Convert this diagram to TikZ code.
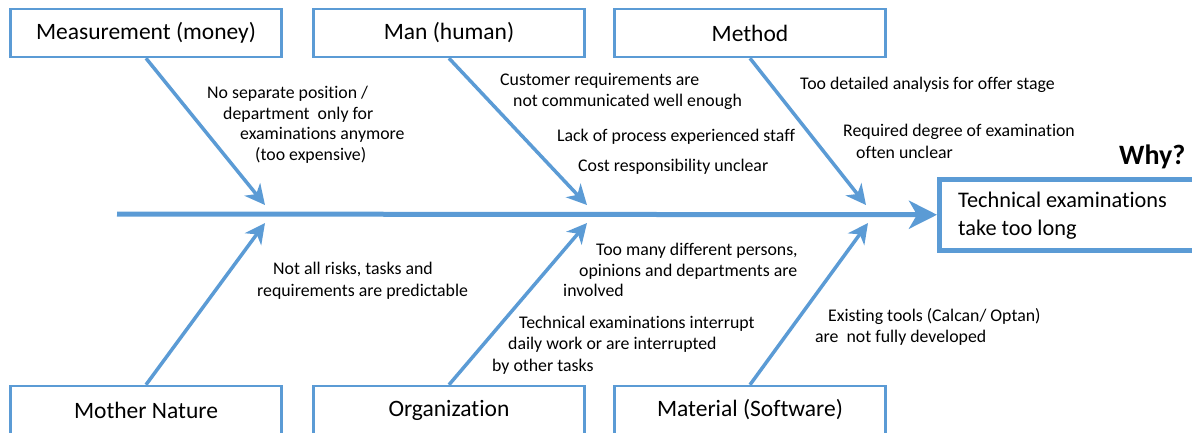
\documentclass[tikz,border=0pt]{standalone}
\usepackage{fontspec}
\setmainfont{Carlito}[Ligatures=NoCommon]
\usetikzlibrary{arrows.meta}
\definecolor{bone}{HTML}{5B9BD5}
\begin{document}
\begin{tikzpicture}[x=1pt,y=-1pt,
  catbox/.style={draw=bone,line width=2.5pt,minimum width=271pt,minimum height=48pt,inner sep=0pt,font=\fontsize{23.5}{28}\selectfont},
  bonearrow/.style={draw=bone,line width=3.5pt,-{Stealth[length=20pt,width=20pt,inset=6pt]}},
  cause/.style={anchor=base west,inner sep=0pt,font=\fontsize{17.8}{21}\selectfont}]
\useasboundingbox (0,0) rectangle (1192,432);
% category boxes
\node[catbox] (meas) at (146,33) {Measurement (money)};
\node[catbox] (man) at (449,33) {Man (human)};
\node[catbox] (meth) at (750,33) {Method};
\node[catbox] (moth) at (146,410) {Mother Nature};
\node[catbox] (org) at (449,410) {Organization};
\node[catbox] (mat) at (750,410) {Material (Software)};
% effect box
\node[draw=bone,line width=4.5pt,minimum width=270pt,minimum height=71pt,anchor=north west,inner sep=0pt] (eff) at (937,177) {};
\node[anchor=base west,inner sep=0pt,font=\fontsize{22.3}{26}\selectfont] (eff1) at (958,207) {Technical examinations};
\node[anchor=base west,inner sep=0pt,font=\fontsize{22.3}{26}\selectfont] (eff2) at (958,235) {take too long};
\node[anchor=base west,inner sep=0pt,font=\fontsize{28}{33}\bfseries] (why) at (1119,164) {Why?};
% spine
\coordinate (sp) at (117,214);
\draw[draw=bone,line width=5pt,-{Stealth[length=28pt,width=28pt,inset=8pt]}] (sp) -- (eff.west);
% bone tips
\coordinate (t1) at (265,205);
\coordinate (t2) at (587,205);
\coordinate (t3) at (866,205);
\coordinate (b1) at (265,223);
\coordinate (b2) at (587,223);
\coordinate (b3) at (868,223);
\draw[bonearrow] (meas.south) -- (t1);
\draw[bonearrow] (man.south) -- (t2);
\draw[bonearrow] (meth.south) -- (t3);
\draw[bonearrow] (moth.north) -- (b1);
\draw[bonearrow] (org.north) -- (b2);
\draw[bonearrow] (mat.north) -- (b3);
% causes
\node[cause] (c1a) at (207,98) {No separate position /};
\node[cause] (c1b) at (223,119) {department\ \ only for};
\node[cause] (c1c) at (240,139.5) {examinations anymore};
\node[cause] (c1d) at (255,160) {(too expensive)};
\node[cause] (c2a) at (500,85) {Customer requirements are};
\node[cause] (c2b) at (513,106) {not communicated well enough};
\node[cause] (c2c) at (557,141) {Lack of process experienced staff};
\node[cause] (c2d) at (578,171) {Cost responsibility unclear};
\node[cause] (c3a) at (800,89) {Too detailed analysis for offer stage};
\node[cause] (c3b) at (843,136) {Required degree of examination};
\node[cause] (c3c) at (856,158) {often unclear};
\node[cause] (c4a) at (273,274) {Not all risks, tasks and};
\node[cause] (c4b) at (257,296) {requirements are predictable};
\node[cause] (c5a) at (596,255) {Too many different persons,};
\node[cause] (c5b) at (579,276) {opinions and departments are};
\node[cause] (c5c) at (563,296) {involved};
\node[cause] (c6a) at (519,328) {Technical examinations interrupt};
\node[cause] (c6b) at (508,349) {daily work or are interrupted};
\node[cause] (c6c) at (492,371) {by other tasks};
\node[cause] (c7a) at (828,321) {Existing tools (Calcan/ Optan)};
\node[cause] (c7b) at (815,342) {are\ \ not fully developed};
\end{tikzpicture}
\end{document}
